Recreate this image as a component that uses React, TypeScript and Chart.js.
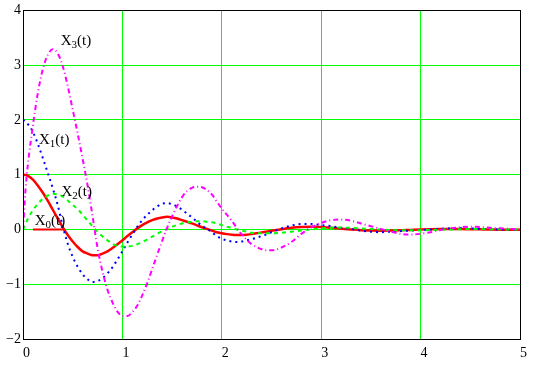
import { useEffect, useRef } from "react";
import { Chart, registerables } from "chart.js";

Chart.register(...registerables);

const times = [
  0, 0.025, 0.05, 0.1, 0.15, 0.2, 0.25, 0.3, 0.35, 0.4, 0.45, 0.5, 0.55, 0.6, 0.65, 0.7, 0.75, 0.8, 0.85, 0.9, 0.95, 1.0,
  1.05, 1.1, 1.15, 1.2, 1.25, 1.3, 1.35, 1.4, 1.45, 1.5, 1.55, 1.6, 1.65, 1.7, 1.75, 1.8, 1.85, 1.9, 1.95, 2.0,
  2.05, 2.1, 2.15, 2.2, 2.25, 2.3, 2.35, 2.4, 2.45, 2.5,
  2.6, 2.7, 2.8, 2.9, 3.0, 3.1, 3.2, 3.3, 3.4, 3.5, 3.6, 3.7, 3.8, 3.9, 4.0, 4.1, 4.2, 4.3, 4.4, 4.5, 4.6, 4.7, 4.8, 4.9, 5.0,
];

const x0Values = [
  1.0, 0.995, 0.98, 0.91, 0.8, 0.67, 0.52, 0.36, 0.2, 0.04, -0.1, -0.22, -0.32, -0.4, -0.44, -0.47, -0.47, -0.44, -0.4, -0.34, -0.27, -0.2,
  -0.12, -0.05, 0.02, 0.08, 0.13, 0.17, 0.2, 0.22, 0.23, 0.22, 0.2, 0.17, 0.14, 0.11, 0.075, 0.04, 0.01, -0.02, -0.05, -0.07,
  -0.085, -0.095, -0.1, -0.1, -0.095, -0.085, -0.07, -0.055, -0.04, -0.025,
  0.005, 0.03, 0.045, 0.05, 0.045, 0.03, 0.015, 0.0, -0.013, -0.02, -0.023, -0.021, -0.015, -0.008, -0.001, 0.005, 0.009, 0.01, 0.008, 0.005, 0.002, -0.001, -0.003, -0.004, -0.004,
];

const x1Values = [
  2.0, 1.97, 1.92, 1.78, 1.56, 1.3, 1.03, 0.75, 0.44, 0.06, -0.26, -0.5, -0.68, -0.82, -0.91, -0.96, -0.94, -0.89, -0.8, -0.69, -0.55, -0.4,
  -0.24, -0.09, 0.05, 0.17, 0.27, 0.35, 0.42, 0.47, 0.48, 0.46, 0.42, 0.36, 0.29, 0.22, 0.14, 0.07, 0.01, -0.05, -0.12, -0.17,
  -0.2, -0.22, -0.23, -0.22, -0.2, -0.18, -0.15, -0.12, -0.09, -0.05,
  0.02, 0.07, 0.1, 0.1, 0.08, 0.06, 0.03, 0.01, -0.02, -0.04, -0.05, -0.04, -0.03, -0.02, -0.01, 0.0, 0.01, 0.02, 0.02, 0.02, 0.01, 0.005, 0.0, -0.005, -0.005,
];

const x2Values = [
  0, 0.1, 0.2, 0.35, 0.47, 0.56, 0.62, 0.65, 0.64, 0.6, 0.53, 0.45, 0.37, 0.27, 0.16, 0.06, -0.04, -0.13, -0.2, -0.26, -0.3, -0.31,
  -0.31, -0.3, -0.27, -0.23, -0.18, -0.13, -0.08, -0.03, 0.01, 0.05, 0.08, 0.11, 0.13, 0.14, 0.15, 0.15, 0.14, 0.13, 0.11, 0.08,
  0.05, 0.03, 0.0, -0.02, -0.04, -0.06, -0.07, -0.07, -0.07, -0.07,
  -0.06, -0.04, -0.02, 0.0, 0.02, 0.03, 0.035, 0.03, 0.02, 0.01, 0.0, -0.01, -0.015, -0.015, -0.015, -0.01, -0.005, 0.0, 0.005, 0.007, 0.007, 0.005, 0.003, 0.0, 0.0,
];

const x3Values = [
  0, 0.72, 1.2, 1.9, 2.5, 2.93, 3.19, 3.29, 3.21, 2.98, 2.62, 2.19, 1.75, 1.29, 0.8, 0.24, -0.34, -0.77, -1.1, -1.33, -1.5, -1.58,
  -1.58, -1.51, -1.39, -1.2, -0.98, -0.72, -0.46, -0.21, 0.03, 0.24, 0.43, 0.59, 0.7, 0.76, 0.78, 0.77, 0.72, 0.64, 0.51, 0.38,
  0.27, 0.16, 0.03, -0.09, -0.19, -0.27, -0.32, -0.36, -0.38, -0.38,
  -0.33, -0.23, -0.08, 0.04, 0.12, 0.17, 0.18, 0.16, 0.11, 0.06, 0.01, -0.04, -0.08, -0.09, -0.08, -0.05, -0.01, 0.02, 0.04, 0.05, 0.045, 0.03, 0.02, 0.01, 0.0,
];

const xMin = 0;
const xMax = 5;
const yMin = -2;
const yMax = 4;

// Trace labels: name, subscript, anchor (t, value) of text baseline start
const labelSubs = ["0", "1", "2", "3"];
const labelT = [0.118, 0.161, 0.387, 0.379];
const labelV = [0.09, 1.56, 0.62, 3.37];

// short red segment beneath X0 label (on the zero line)
const redMarkT = [0.1, 0.42];
const redMarkV = 0;

const SERIF = "'Liberation Serif', 'Times New Roman', serif";

const toPoints = (vals: number[]) => vals.map((v, i) => ({ x: times[i], y: v }));

const overlayPlugin = {
  id: "overlay",
  afterDatasetsDraw(chart: any) {
    const { ctx, chartArea } = chart;
    const xs = chart.scales.x;
    const ys = chart.scales.y;
    ctx.save();
    // red mark
    ctx.strokeStyle = "#ff0000";
    ctx.lineWidth = 2;
    ctx.beginPath();
    ctx.moveTo(xs.getPixelForValue(redMarkT[0]), ys.getPixelForValue(redMarkV));
    ctx.lineTo(xs.getPixelForValue(redMarkT[1]), ys.getPixelForValue(redMarkV));
    ctx.stroke();
    // frame
    ctx.strokeStyle = "#000000";
    ctx.lineWidth = 1;
    ctx.strokeRect(
      Math.round(chartArea.left) + 0.5,
      Math.round(chartArea.top) + 0.5,
      Math.round(chartArea.right) - Math.round(chartArea.left),
      Math.round(chartArea.bottom) - Math.round(chartArea.top)
    );
    // labels
    ctx.fillStyle = "#000000";
    ctx.textAlign = "left";
    ctx.textBaseline = "alphabetic";
    for (let i = 0; i < labelSubs.length; i++) {
      const px = xs.getPixelForValue(labelT[i]);
      const py = ys.getPixelForValue(labelV[i]);
      ctx.font = `15px ${SERIF}`;
      ctx.fillText("X", px, py);
      const w1 = ctx.measureText("X").width;
      ctx.font = `11px ${SERIF}`;
      ctx.fillText(labelSubs[i], px + w1, py + 3);
      const w2 = ctx.measureText(labelSubs[i]).width;
      ctx.font = `15px ${SERIF}`;
      ctx.fillText("(t)", px + w1 + w2, py);
    }
    ctx.restore();
  },
};

export default function App() {
  const canvasRef = useRef<HTMLCanvasElement | null>(null);

  useEffect(() => {
    if (!canvasRef.current) return;
    const chart = new Chart(canvasRef.current, {
      type: "line",
      data: {
        datasets: [
          {
            label: "X3(t)",
            data: toPoints(x3Values),
            borderColor: "#ff00ff",
            borderWidth: 2,
            borderDash: [5, 3, 1, 3],
          },
          {
            label: "X2(t)",
            data: toPoints(x2Values),
            borderColor: "#00ff00",
            borderWidth: 2,
            borderDash: [4, 4],
          },
          {
            label: "X1(t)",
            data: toPoints(x1Values),
            borderColor: "#0000ff",
            borderWidth: 2,
            borderDash: [2, 4],
          },
          {
            label: "X0(t)",
            data: toPoints(x0Values),
            borderColor: "#ff0000",
            borderWidth: 2.5,
          },
        ] as any,
      },
      options: {
        animation: false,
        responsive: false,
        devicePixelRatio: 1,
        layout: { padding: { top: 9, right: 19, left: 0, bottom: 0 } },
        elements: {
          point: { radius: 0, hoverRadius: 0 },
          line: { cubicInterpolationMode: "monotone", borderCapStyle: "butt", fill: false },
        },
        plugins: { legend: { display: false }, tooltip: { enabled: false } },
        events: [],
        scales: {
          x: {
            type: "linear",
            min: xMin,
            max: xMax,
            afterFit: (s: any) => {
              s.height = 32;
            },
            ticks: {
              stepSize: 1,
              align: "start",
              padding: 6,
              color: "#000000",
              font: { family: SERIF, size: 14 },
            },
            grid: { color: "#00ff00", lineWidth: 1, drawTicks: false },
            border: { display: false },
          },
          y: {
            type: "linear",
            min: yMin,
            max: yMax,
            afterFit: (s: any) => {
              s.width = 23;
            },
            ticks: {
              stepSize: 1,
              padding: 2,
              color: "#000000",
              font: { family: SERIF, size: 14 },
              callback: (v: any) => (Number(v) < 0 ? "\u2212" + Math.abs(Number(v)) : String(v)),
            },
            grid: { color: "#00ff00", lineWidth: 1, drawTicks: false },
            border: { display: false },
          },
        },
      },
      plugins: [overlayPlugin],
    });
    return () => chart.destroy();
  }, []);

  return (
    <div style={{ position: "absolute", left: 0, top: 0, width: 539, height: 371, background: "#ffffff" }}>
      <canvas ref={canvasRef} width={539} height={371} />
    </div>
  );
}
